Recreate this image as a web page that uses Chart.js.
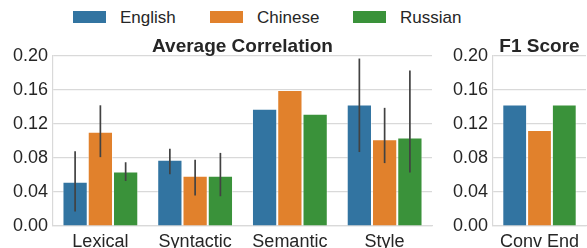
<!DOCTYPE html>
<html>
<head>
<meta charset="utf-8">
<script src="https://cdn.jsdelivr.net/npm/chart.js@4.4.1/dist/chart.umd.min.js"></script>
<style>
    html, body { margin: 0; padding: 0; background: #fff; }
    body { width: 587px; height: 248px; position: relative; overflow: hidden; font-family: 'Liberation Sans', Arial, sans-serif; color: #262626; }
    #legend { position: absolute; top: 0; left: 0; width: 587px; height: 34px; }
    .legend-item { position: absolute; top: 0; height: 34px; }
    .legend-swatch { position: absolute; top: 11px; width: 33px; height: 12px; }
    .legend-label { position: absolute; top: 8px; left: 47px; font-size: 17px; line-height: 20px; white-space: nowrap; }
    #wrap-corr { position: absolute; left: 0; top: 0; }
    #wrap-f1 { position: absolute; left: 440px; top: 0; }
</style>
</head>
<body>
<div id="legend"></div>
<div id="wrap-corr"><canvas id="corr-chart" width="433" height="248"></canvas></div>
<div id="wrap-f1"><canvas id="f1-chart" width="147" height="248"></canvas></div>
<script>
// series names / colours
var seriesNames = ['English', 'Chinese', 'Russian'];
var seriesColors = ['#3274a1', '#e1812c', '#3a923a'];

// left panel: average correlation
var corrCategories = ['Lexical', 'Syntactic', 'Semantic', 'Style'];
var corrEnglish = [0.052, 0.078, 0.138, 0.143];
var corrChinese = [0.111, 0.059, 0.160, 0.102];
var corrRussian = [0.064, 0.059, 0.132, 0.104];
// error bar ranges [low, high], null = no bar
var errEnglish = [[0.017, 0.088], [0.061, 0.091], null, [0.087, 0.197]];
var errChinese = [[0.081, 0.142], [0.036, 0.078], null, [0.074, 0.139]];
var errRussian = [[0.053, 0.075], [0.035, 0.086], null, [0.063, 0.183]];

// right panel: F1 score
var f1Categories = ['Conv End'];
var f1English = [0.143];
var f1Chinese = [0.113];
var f1Russian = [0.143];

var yTicks = [0.00, 0.04, 0.08, 0.12, 0.16, 0.20];

var FONT = "'Liberation Sans', Arial, sans-serif";
var TEXT = '#262626';
var GRID = '#d9d9d9';

function buildLegend() {
    var wrap = document.getElementById('legend');
    var lefts = [73, 210, 353];
    wrap.innerHTML = seriesNames.map(function (name, i) {
        return '<div class="legend-item" style="left:' + lefts[i] + 'px">' +
            '<div class="legend-swatch" style="background:' + seriesColors[i] + '"></div>' +
            '<div class="legend-label">' + name + '</div></div>';
    }).join('');
}

var errorBarPlugin = {
    id: 'errorBars',
    afterDatasetsDraw: function (chart) {
        var ctx = chart.ctx;
        var yScale = chart.scales.y;
        ctx.save();
        ctx.strokeStyle = '#424242';
        ctx.lineWidth = 1.7;
        chart.data.datasets.forEach(function (ds, di) {
            if (!ds.errors) return;
            var meta = chart.getDatasetMeta(di);
            meta.data.forEach(function (bar, i) {
                var e = ds.errors[i];
                if (!e) return;
                ctx.beginPath();
                ctx.moveTo(bar.x, yScale.getPixelForValue(e[0]));
                ctx.lineTo(bar.x, yScale.getPixelForValue(e[1]));
                ctx.stroke();
            });
        });
        ctx.restore();
    }
};

function makeDatasets(values, errors) {
    return values.map(function (vals, i) {
        return {
            label: seriesNames[i],
            data: vals,
            errors: errors ? errors[i] : null,
            backgroundColor: seriesColors[i],
            borderColor: 'rgba(255,255,255,0.45)',
            borderWidth: 1,
            barPercentage: 1.0,
            categoryPercentage: 0.8
        };
    });
}

function makeOptions(title, rightPad) {
    return {
        responsive: false,
        devicePixelRatio: 1,
        animation: false,
        layout: { padding: { top: 37, left: 0, right: rightPad, bottom: 0 } },
        plugins: {
            legend: { display: false },
            tooltip: { enabled: false },
            title: {
                display: true,
                text: title,
                fullSize: false,
                color: TEXT,
                font: { family: FONT, size: 19, weight: 'bold', lineHeight: 1.0 },
                padding: { top: 0, bottom: 0 }
            }
        },
        scales: {
            x: {
                grid: { display: false, drawTicks: false, tickLength: 0 },
                border: { display: true, color: GRID, width: 1.2 },
                ticks: { color: TEXT, font: { family: FONT, size: 18 }, padding: 5, maxRotation: 0, autoSkip: false },
                afterFit: function (axis) { axis.height = 22; }
            },
            y: {
                min: 0,
                max: 0.2,
                afterBuildTicks: function (axis) {
                    axis.ticks = yTicks.map(function (v) { return { value: v }; });
                },
                grid: { color: GRID, lineWidth: 1.2, drawTicks: false, tickLength: 0 },
                border: { display: true, color: GRID, width: 1.2 },
                ticks: {
                    color: TEXT,
                    font: { family: FONT, size: 18 },
                    padding: 5,
                    callback: function (value) { return Number(value).toFixed(2); }
                },
                afterFit: function (axis) { axis.width = 53; }
            }
        }
    };
}

buildLegend();

new Chart(document.getElementById('corr-chart').getContext('2d'), {
    type: 'bar',
    data: {
        labels: corrCategories,
        datasets: makeDatasets([corrEnglish, corrChinese, corrRussian], [errEnglish, errChinese, errRussian])
    },
    options: makeOptions('Average Correlation', 1),
    plugins: [errorBarPlugin]
});

new Chart(document.getElementById('f1-chart').getContext('2d'), {
    type: 'bar',
    data: {
        labels: f1Categories,
        datasets: makeDatasets([f1English, f1Chinese, f1Russian], null)
    },
    options: makeOptions('F1 Score', 1),
    plugins: [errorBarPlugin]
});
</script>
</body>
</html>
